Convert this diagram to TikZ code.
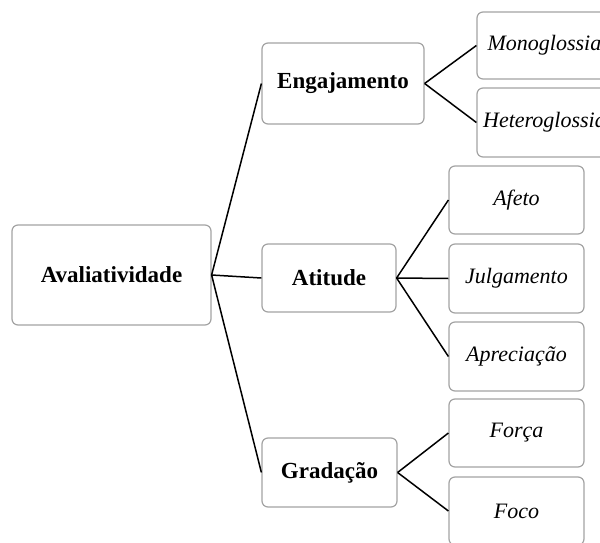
\documentclass[tikz,border=0pt]{standalone}
\usepackage{fontspec}
\setmainfont{Liberation Serif}
\begin{document}
\begin{tikzpicture}[x=1pt,y=-1pt,
  box/.style={draw=boxgray,line width=1.2pt,rounded corners=6pt,fill=white,
    inner sep=0pt,align=center},
  root/.style={box,font=\fontsize{23}{27}\selectfont\bfseries},
  leaf/.style={box,font=\fontsize{22}{26}\selectfont\itshape},
  link/.style={line width=1.5pt,black}]
\definecolor{boxgray}{HTML}{A3A3A3}
\useasboundingbox (0,0) rectangle (600,543);

% top level
\node[root,minimum width=199pt,minimum height=100pt] (aval) at (111.5,275) {Avaliatividade};

% second level
\node[root,minimum width=162pt,minimum height=81pt] (eng) at (343,83.5) {Engajamento};
\node[root,minimum width=134pt,minimum height=68pt] (ati) at (329,278) {Atitude};
\node[root,minimum width=135pt,minimum height=69pt] (gra) at (329.5,472.5) {Gradação};

% leaves
\node[leaf,minimum width=135pt,minimum height=67pt] (mono) at (544.5,45.5) {Monoglossia};
\node[leaf,minimum width=135pt,minimum height=69pt] (hetero) at (544.5,122.5) {Heteroglossia};
\node[leaf,minimum width=135pt,minimum height=68pt] (afeto) at (516.5,200) {Afeto};
\node[leaf,minimum width=135pt,minimum height=69pt] (julg) at (516.5,278.5) {Julgamento};
\node[leaf,minimum width=135pt,minimum height=69pt] (apre) at (516.5,356.5) {Apreciação};
\node[leaf,minimum width=135pt,minimum height=68pt] (forca) at (516.5,433) {Força};
\node[leaf,minimum width=135pt,minimum height=68pt] (foco) at (516.5,511) {Foco};

% connectors
\draw[link] (aval.east) -- (eng.west);
\draw[link] (aval.east) -- (ati.west);
\draw[link] (aval.east) -- (gra.west);
\draw[link] (eng.east) -- (mono.west);
\draw[link] (eng.east) -- (hetero.west);
\draw[link] (ati.east) -- (afeto.west);
\draw[link] (ati.east) -- (julg.west);
\draw[link] (ati.east) -- (apre.west);
\draw[link] (gra.east) -- (forca.west);
\draw[link] (gra.east) -- (foco.west);
\end{tikzpicture}
\end{document}
